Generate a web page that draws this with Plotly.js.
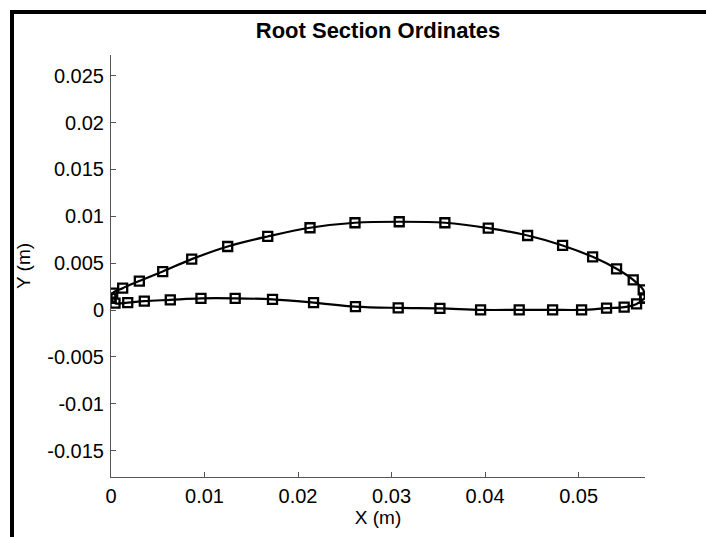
<!DOCTYPE html>
<html>
<head>
<meta charset="utf-8">
<script src="https://cdn.plot.ly/plotly-3.0.1.min.js"></script>
<style>
  html, body { margin: 0; padding: 0; background: #fff; }
  #chart { width: 706px; height: 537px; }
</style>
</head>
<body>
<div id="chart"></div>
<script>
// Root section ordinates of the blade/wing profile (metres)
const xUpper = [0.00000, 0.00018, 0.00125, 0.00303, 0.00553, 0.00863, 0.01248, 0.01676, 0.02128, 0.02609,
                0.03082, 0.03570, 0.04034, 0.04455, 0.04829, 0.05150, 0.05406, 0.05584, 0.05691, 0.05709];
const yUpper = [0.00127, 0.00180, 0.00234, 0.00309, 0.00411, 0.00543, 0.00678, 0.00785, 0.00878, 0.00931,
                0.00942, 0.00931, 0.00874, 0.00795, 0.00689, 0.00568, 0.00440, 0.00322, 0.00216, 0.00127];
const xLower = [0.00000, 0.00043, 0.00179, 0.00356, 0.00634, 0.00962, 0.01328, 0.01727, 0.02166, 0.02614,
                0.03071, 0.03517, 0.03952, 0.04365, 0.04722, 0.05032, 0.05299, 0.05487, 0.05620, 0.05709];
const yLower = [0.00127, 0.00074, 0.00080, 0.00095, 0.00109, 0.00125, 0.00125, 0.00114, 0.00080, 0.00037,
                0.00023, 0.00018, 0.00002, 0.00002, 0.00002, 0.00002, 0.00020, 0.00031, 0.00066, 0.00127];

// Axis ticks
const xTickVals = [0, 0.01, 0.02, 0.03, 0.04, 0.05];
const xTickText = ["0", "0.01", "0.02", "0.03", "0.04", "0.05"];
const yTickVals = [-0.015, -0.01, -0.005, 0, 0.005, 0.01, 0.015, 0.02, 0.025];
const yTickText = ["-0.015", "-0.01", "-0.005", "0", "0.005", "0.01", "0.015", "0.02", "0.025"];

const FONT = "Liberation Sans, Arial, Helvetica, sans-serif";

function surface(x, y) {
  return {
    x: x, y: y,
    type: "scatter",
    mode: "lines+markers",
    line: { color: "#000", width: 2.2, shape: "spline", smoothing: 1 },
    marker: { symbol: "square-open", size: 9, color: "#000", line: { color: "#000", width: 2.3 } },
    hoverinfo: "x+y",
    showlegend: false
  };
}

const axisCommon = {
  showgrid: false,
  zeroline: false,
  showline: true,
  linecolor: "#555",
  linewidth: 1,
  ticks: "inside",
  ticklen: 5,
  tickwidth: 1,
  tickcolor: "#555",
  tickmode: "array",
  tickfont: { family: FONT, size: 20, color: "#000" },
  mirror: false
};

// Plot area in pixels: left 111, right 645, top 55, bottom 477
const W = 706, H = 537, L = 111, R = 61, T = 55, B = 60;
const pw = W - L - R, ph = H - T - B;
const px = v => (v - L) / pw;          // pixel x -> paper x
const py = v => (H - B - v) / ph;      // pixel y -> paper y

const layout = {
  width: W, height: H,
  margin: { l: L, r: R, t: T, b: B, pad: 0 },
  paper_bgcolor: "#fff",
  plot_bgcolor: "#fff",
  font: { family: FONT, color: "#000" },
  title: {
    text: "<b>Root Section Ordinates</b>",
    font: { family: FONT, size: 22, color: "#000" },
    x: 0.5, xref: "paper", xanchor: "center",
    y: 1 - 30 / H, yref: "container", yanchor: "middle"
  },
  xaxis: Object.assign({}, axisCommon, {
    range: [0, 0.0571],
    tickvals: xTickVals, ticktext: xTickText,
    ticklabelstandoff: 1,
    title: { text: "X (m)", font: { family: FONT, size: 19, color: "#000" }, standoff: 0 }
  }),
  yaxis: Object.assign({}, axisCommon, {
    range: [-0.0178, 0.0272],
    tickvals: yTickVals, ticktext: yTickText,
    ticklabelstandoff: 2,
    title: { text: "Y (m)", font: { family: FONT, size: 19, color: "#000" }, standoff: 11 }
  }),
  shapes: [
    // frame edges along the top and left of the figure
    { type: "line", xref: "paper", yref: "paper", x0: px(10), x1: px(720), y0: py(12), y1: py(12),
      line: { color: "#000", width: 4 } },
    { type: "line", xref: "paper", yref: "paper", x0: px(12), x1: px(12), y0: py(10), y1: py(560),
      line: { color: "#000", width: 4 } }
  ]
};

Plotly.newPlot("chart", [surface(xUpper, yUpper), surface(xLower, yLower)], layout,
  { displayModeBar: false, staticPlot: true });
</script>
</body>
</html>
